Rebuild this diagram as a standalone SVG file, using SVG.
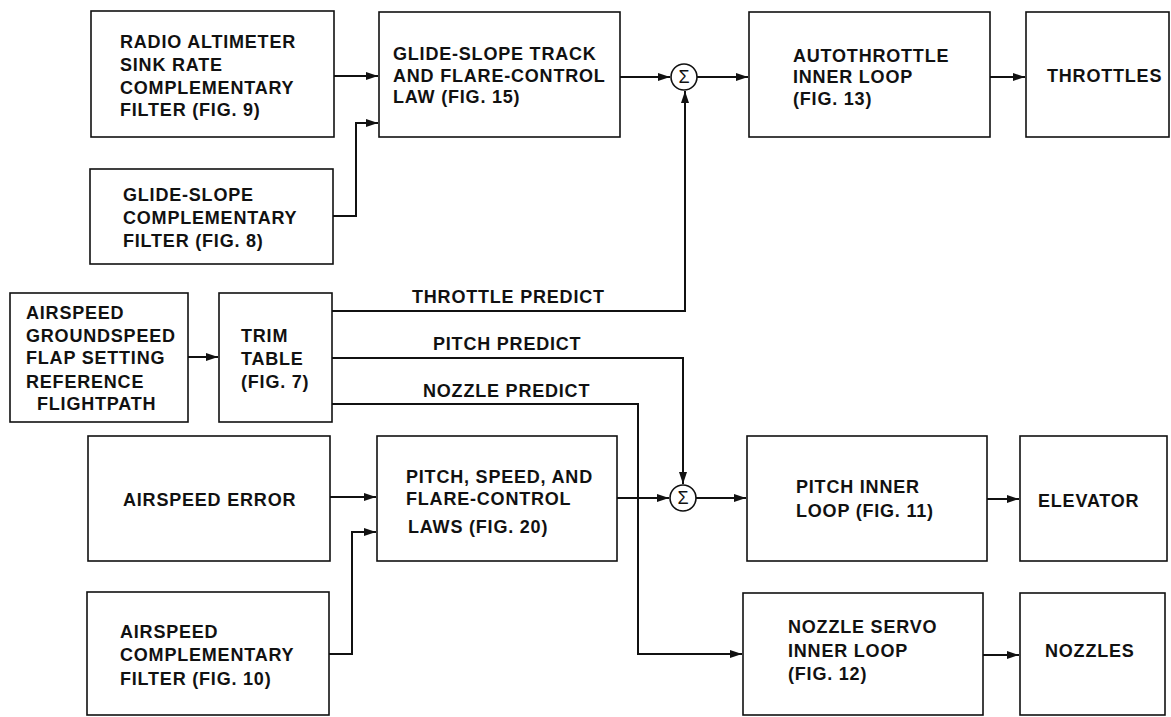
<svg xmlns="http://www.w3.org/2000/svg" width="1171" height="717" viewBox="0 0 1171 717">
<style>
.box{fill:#fff;stroke:#111;stroke-width:1.6}
.t{font-family:"Liberation Sans",Arial,sans-serif;font-weight:bold;font-size:18px;letter-spacing:0.8px;fill:#111}
.c{fill:none;stroke:#111;stroke-width:2}
.sum{fill:#fff;stroke:#111;stroke-width:1.6}
.sg{font-family:"Liberation Sans",Arial,sans-serif;font-size:18px;fill:#111;text-anchor:middle}
</style>
<defs>
<marker id="ah" markerUnits="userSpaceOnUse" markerWidth="13" markerHeight="9" refX="12" refY="4" orient="auto">
<path d="M0,0 L12,4 L0,8 z" fill="#111"/>
</marker>
</defs>
<rect width="1171" height="717" fill="#fff"/>
<g id="connectors">
<path class="c" d="M334,76 H378" marker-end="url(#ah)"/>
<path class="c" d="M333,216 H356 V123 H378" marker-end="url(#ah)"/>
<path class="c" d="M620,77 H670" marker-end="url(#ah)"/>
<path class="c" d="M697,77 H748" marker-end="url(#ah)"/>
<path class="c" d="M990,77 H1025" marker-end="url(#ah)"/>
<path class="c" d="M188,357 H218" marker-end="url(#ah)"/>
<path class="c" d="M332,311 H685 V91" marker-end="url(#ah)"/>
<path class="c" d="M332,358 H683 V484" marker-end="url(#ah)"/>
<path class="c" d="M332,404 H638 V654 H742" marker-end="url(#ah)"/>
<path class="c" d="M330,497 H376" marker-end="url(#ah)"/>
<path class="c" d="M329,654 H352 V532 H376" marker-end="url(#ah)"/>
<path class="c" d="M617,498 H669" marker-end="url(#ah)"/>
<path class="c" d="M696,498 H746" marker-end="url(#ah)"/>
<path class="c" d="M987,499 H1019" marker-end="url(#ah)"/>
<path class="c" d="M983,655 H1019" marker-end="url(#ah)"/>
<text class="t" x="412" y="303">THROTTLE PREDICT</text>
<text class="t" x="433" y="350">PITCH PREDICT</text>
<text class="t" x="423" y="397">NOZZLE PREDICT</text>
</g>
<g id="radio">
<rect class="box" x="91" y="11" width="243" height="126"/>
<text class="t" x="120" y="48">RADIO ALTIMETER</text>
<text class="t" x="120" y="71">SINK RATE</text>
<text class="t" x="120" y="94">COMPLEMENTARY</text>
<text class="t" x="120" y="116">FILTER (FIG. 9)</text>
</g>
<g id="glidecomp">
<rect class="box" x="90" y="169" width="243" height="95"/>
<text class="t" x="123" y="201">GLIDE-SLOPE</text>
<text class="t" x="123" y="224">COMPLEMENTARY</text>
<text class="t" x="123" y="247">FILTER (FIG. 8)</text>
</g>
<g id="track">
<rect class="box" x="379" y="12" width="241" height="125"/>
<text class="t" x="393" y="60">GLIDE-SLOPE TRACK</text>
<text class="t" x="393" y="82">AND FLARE-CONTROL</text>
<text class="t" x="393" y="103">LAW (FIG. 15)</text>
</g>
<g id="sum1">
<circle class="sum" cx="684" cy="77" r="13"/>
<text class="sg" x="684" y="83">Σ</text>
</g>
<g id="autothrottle">
<rect class="box" x="749" y="12" width="241" height="125"/>
<text class="t" x="793" y="62">AUTOTHROTTLE</text>
<text class="t" x="793" y="83">INNER LOOP</text>
<text class="t" x="793" y="105">(FIG. 13)</text>
</g>
<g id="throttles">
<rect class="box" x="1026" y="12" width="143" height="125"/>
<text class="t" x="1047" y="82">THROTTLES</text>
</g>
<g id="inputs">
<rect class="box" x="10" y="293" width="178" height="129"/>
<text class="t" x="26" y="319">AIRSPEED</text>
<text class="t" x="26" y="342">GROUNDSPEED</text>
<text class="t" x="26" y="364">FLAP SETTING</text>
<text class="t" x="26" y="388">REFERENCE</text>
<text class="t" x="37" y="410">FLIGHTPATH</text>
</g>
<g id="trim">
<rect class="box" x="219" y="293" width="113" height="129"/>
<text class="t" x="241" y="342">TRIM</text>
<text class="t" x="241" y="365">TABLE</text>
<text class="t" x="241" y="388">(FIG. 7)</text>
</g>
<g id="airspeederror">
<rect class="box" x="88" y="436" width="242" height="125"/>
<text class="t" x="123" y="506">AIRSPEED ERROR</text>
</g>
<g id="pitchspeed">
<rect class="box" x="377" y="436" width="240" height="125"/>
<text class="t" x="406" y="483">PITCH, SPEED, AND</text>
<text class="t" x="406" y="505">FLARE-CONTROL</text>
<text class="t" x="408" y="533">LAWS (FIG. 20)</text>
</g>
<g id="sum2">
<circle class="sum" cx="683" cy="498" r="13"/>
<text class="sg" x="683" y="504">Σ</text>
</g>
<g id="pitchinner">
<rect class="box" x="747" y="436" width="240" height="125"/>
<text class="t" x="796" y="493">PITCH INNER</text>
<text class="t" x="796" y="517">LOOP (FIG. 11)</text>
</g>
<g id="elevator">
<rect class="box" x="1020" y="436" width="147" height="125"/>
<text class="t" x="1038" y="507">ELEVATOR</text>
</g>
<g id="airspeedcomp">
<rect class="box" x="87" y="592" width="242" height="123"/>
<text class="t" x="120" y="638">AIRSPEED</text>
<text class="t" x="120" y="661">COMPLEMENTARY</text>
<text class="t" x="120" y="685">FILTER (FIG. 10)</text>
</g>
<g id="nozzleservo">
<rect class="box" x="743" y="593" width="240" height="122"/>
<text class="t" x="788" y="633">NOZZLE SERVO</text>
<text class="t" x="788" y="657">INNER LOOP</text>
<text class="t" x="788" y="680">(FIG. 12)</text>
</g>
<g id="nozzles">
<rect class="box" x="1020" y="593" width="145" height="122"/>
<text class="t" x="1045" y="657">NOZZLES</text>
</g>
</svg>
